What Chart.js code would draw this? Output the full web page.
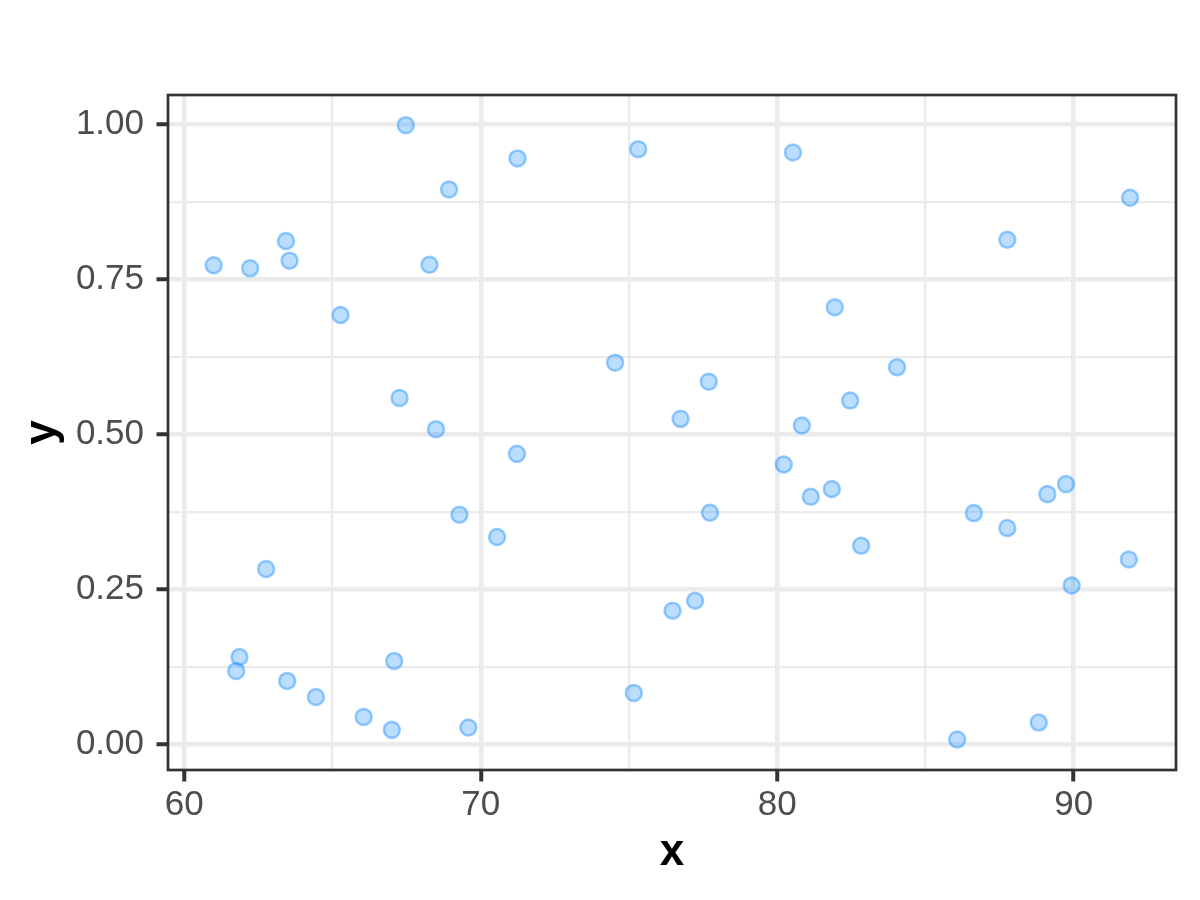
<!DOCTYPE html>
<html>
<head>
<meta charset="utf-8">
<script src="https://cdn.jsdelivr.net/npm/chart.js@4.4.1/dist/chart.umd.min.js"></script>
<style>
  html, body { margin: 0; padding: 0; background: #ffffff; }
  #wrap { width: 1200px; height: 900px; }
</style>
</head>
<body>
<div id="wrap"><canvas id="chart" width="1200" height="900"></canvas></div>
<script>
// ---- Data ----
const xValues = [60.99, 62.22, 63.43, 63.55, 65.27, 67.47, 68.93, 71.24, 75.31, 80.53,
                 91.90, 87.76, 68.27, 81.94, 74.53, 84.04, 77.69, 67.26, 82.46, 76.74,
                 80.83, 68.49, 71.22, 80.22, 89.74, 89.11, 81.84, 81.13, 69.28, 77.73,
                 86.63, 87.76, 70.55, 82.83, 62.76, 91.86, 89.93, 76.47, 77.23, 61.86,
                 61.75, 67.08, 63.47, 64.44, 75.16, 66.05, 67.00, 69.58, 86.07, 88.82];
const yValues = [0.7725, 0.7676, 0.8116, 0.7800, 0.6924, 0.9984, 0.8948, 0.9448, 0.9597, 0.9544,
                 0.8813, 0.8137, 0.7734, 0.7048, 0.6156, 0.6082, 0.5850, 0.5588, 0.5544, 0.5250,
                 0.5142, 0.5084, 0.4686, 0.4514, 0.4198, 0.4037, 0.4118, 0.3994, 0.3704, 0.3736,
                 0.3731, 0.3490, 0.3345, 0.3205, 0.2829, 0.2984, 0.2565, 0.2158, 0.2319, 0.1412,
                 0.1187, 0.1348, 0.1026, 0.0768, 0.0833, 0.0446, 0.0237, 0.0274, 0.0081, 0.0354];

const xMajorTicks = [60, 70, 80, 90];
const xMinorTicks = [65, 75, 85];
const xTickLabels = ['60', '70', '80', '90'];
const yMajorTicks = [0, 0.25, 0.5, 0.75, 1];
const yMinorTicks = [0.125, 0.375, 0.625, 0.875];
const yTickLabels = ['0.00', '0.25', '0.50', '0.75', '1.00'];
const xTitle = 'x';
const yTitle = 'y';
const xRange = [59.45, 93.45];
const yRange = [-0.041, 1.047];

// ---- Build chart ----
const points = xValues.map((x, i) => ({ x: x, y: yValues[i] }));
const near = (a, b) => Math.abs(a - b) < 1e-9;
const idxIn = (arr, v) => arr.findIndex(t => near(t, v));

const FONT = "'Liberation Sans', Arial, 'DejaVu Sans', sans-serif";
const GRID = '#EBEBEB';
const DARK = '#333333';

const panelBorder = {
  id: 'panelBorder',
  afterDraw(chart) {
    const { ctx, chartArea: a } = chart;
    ctx.save();
    ctx.strokeStyle = DARK;
    ctx.lineWidth = 2.7;
    ctx.strokeRect(a.left, a.top, a.right - a.left, a.bottom - a.top);
    ctx.restore();
  }
};

function gridOpts(major) {
  return {
    color: GRID,
    lineWidth: c => (c.tick && idxIn(major, c.tick.value) >= 0) ? 4.5 : 2.3,
    tickColor: c => (c.tick && idxIn(major, c.tick.value) >= 0) ? DARK : 'rgba(0,0,0,0)',
    tickWidth: 4,
    tickLength: 11.5,
    drawTicks: true,
    drawOnChartArea: true
  };
}

new Chart(document.getElementById('chart'), {
  type: 'scatter',
  data: {
    datasets: [{
      data: points,
      backgroundColor: 'rgba(30,144,255,0.30)',
      borderColor: 'rgba(30,144,255,0.45)',
      borderWidth: 2.5,
      pointRadius: 8,
      pointHoverRadius: 8
    }]
  },
  plugins: [panelBorder],
  options: {
    responsive: false,
    animation: false,
    devicePixelRatio: 1,
    layout: { padding: { left: 0, top: 95, right: 24, bottom: 0 } },
    plugins: { legend: { display: false }, tooltip: { enabled: false } },
    scales: {
      x: {
        type: 'linear',
        min: xRange[0],
        max: xRange[1],
        afterBuildTicks: s => {
          s.ticks = [...xMajorTicks, ...xMinorTicks].sort((a, b) => a - b).map(v => ({ value: v }));
        },
        afterFit: s => { s.height = 130; },
        border: { display: false },
        grid: gridOpts(xMajorTicks),
        ticks: {
          autoSkip: false,
          maxRotation: 0,
          padding: 3,
          color: '#4D4D4D',
          font: { family: FONT, size: 35, lineHeight: 1.2 },
          callback: v => { const i = idxIn(xMajorTicks, v); return i >= 0 ? xTickLabels[i] : ''; }
        },
        title: {
          display: true,
          text: xTitle,
          color: '#000000',
          font: { family: FONT, size: 44, weight: 'bold', lineHeight: 1.2 },
          padding: { top: 0, bottom: 20.6 }
        }
      },
      y: {
        type: 'linear',
        min: yRange[0],
        max: yRange[1],
        afterBuildTicks: s => {
          s.ticks = [...yMajorTicks, ...yMinorTicks].sort((a, b) => a - b).map(v => ({ value: v }));
        },
        afterFit: s => { s.width = 168; },
        border: { display: false },
        grid: gridOpts(yMajorTicks),
        ticks: {
          autoSkip: false,
          padding: 12.5,
          color: '#4D4D4D',
          font: { family: FONT, size: 35, lineHeight: 1.2 },
          callback: v => { const i = idxIn(yMajorTicks, v); return i >= 0 ? yTickLabels[i] : ''; }
        },
        title: {
          display: true,
          text: yTitle,
          color: '#000000',
          font: { family: FONT, size: 44, weight: 'bold', lineHeight: 1.2 },
          padding: { top: 16, bottom: 0 }
        }
      }
    }
  }
});
</script>
</body>
</html>
